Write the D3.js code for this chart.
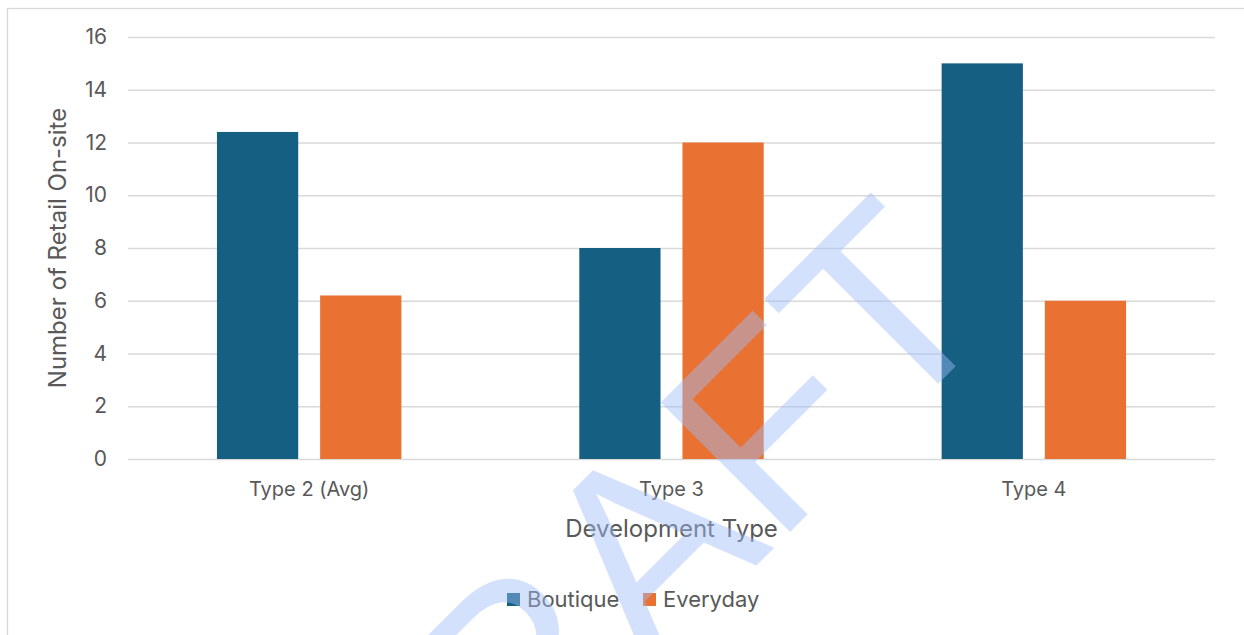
<!DOCTYPE html>
<html>
<head>
<meta charset="utf-8">
<script src="https://cdn.jsdelivr.net/npm/d3@7"></script>
<style>
  body { margin: 0; background: #fff; }
  svg { display: block; }
</style>
</head>
<body>
<svg width="1244" height="635"></svg>
<script>
const categories = ['Type 2 (Avg)', 'Type 3', 'Type 4'];
const series = ['Boutique', 'Everyday'];
const boutique = [12.4, 8, 15];
const everyday = [6.2, 12, 6];
const yTicks = [0, 2, 4, 6, 8, 10, 12, 14, 16];

const svg = d3.select('svg');
const font = 'Inter, "Open Sans", sans-serif';
const textColor = '#595959';
const gridColor = '#D9D9D9';
const color = d3.scaleOrdinal()
  .domain(series)
  .range(['#156082', '#E97132']);

const plot = { left: 128, right: 1215, top: 37, bottom: 459 };

// chart frame
svg.append('rect')
  .attr('x', 7.5).attr('y', 8.5)
  .attr('width', 1400).attr('height', 800)
  .attr('fill', '#fff')
  .attr('stroke', gridColor)
  .attr('stroke-width', 1.3);

const x0 = d3.scaleBand()
  .domain(categories)
  .range([plot.left, plot.right]);

// excel style: gap width 219%, overlap -27%
const gapWidth = 2.19, overlap = -0.27;
const barW = x0.bandwidth() / (series.length - overlap * (series.length - 1) + gapWidth);
const x1 = d3.scaleOrdinal()
  .domain(series)
  .range(series.map((s, i) => barW * gapWidth / 2 + i * barW * (1 - overlap)));

const y = d3.scaleLinear()
  .domain([0, 16])
  .range([plot.bottom, plot.top]);

// gridlines + y labels
const yAxis = d3.axisLeft(y)
  .tickValues(yTicks)
  .tickSize(-(plot.right - plot.left))
  .tickPadding(21);

const yAxisG = svg.append('g')
  .attr('transform', `translate(${plot.left},0)`)
  .call(yAxis);
yAxisG.select('.domain').remove();
yAxisG.selectAll('line')
  .attr('stroke', gridColor)
  .attr('stroke-width', 1.3);
yAxisG.selectAll('text')
  .attr('fill', textColor)
  .style('font-family', font)
  .style('font-size', '21px');

// x labels
const xAxis = d3.axisBottom(x0).tickSize(0).tickPadding(23);
const xAxisG = svg.append('g')
  .attr('transform', `translate(0,${plot.bottom})`)
  .call(xAxis);
xAxisG.select('.domain').remove();
xAxisG.selectAll('text')
  .attr('fill', textColor)
  .style('font-family', font)
  .style('font-size', '20px');

// bars
const rows = categories.map((c, i) => ({ cat: c, Boutique: boutique[i], Everyday: everyday[i] }));
svg.append('g')
  .selectAll('g')
  .data(rows)
  .enter()
  .append('g')
  .attr('transform', d => `translate(${x0(d.cat)},0)`)
  .selectAll('rect')
  .data(d => series.map(s => ({ key: s, value: d[s] })))
  .enter()
  .append('rect')
  .attr('x', d => x1(d.key))
  .attr('y', d => y(d.value))
  .attr('width', barW)
  .attr('height', d => y(0) - y(d.value))
  .attr('fill', d => color(d.key));

// axis titles
svg.append('text')
  .text('Number of Retail On-site')
  .attr('text-anchor', 'middle')
  .attr('fill', textColor)
  .style('font-family', font)
  .style('font-size', '24px')
  .attr('transform', `translate(66, ${(plot.top + plot.bottom) / 2})rotate(-90)`);

svg.append('text')
  .text('Development Type')
  .attr('text-anchor', 'middle')
  .attr('fill', textColor)
  .style('font-family', font)
  .style('font-size', '24px')
  .attr('x', (plot.left + plot.right) / 2)
  .attr('y', 537);

// legend
const legendG = svg.append('g')
  .attr('transform', 'translate(507, 593)');
const space = 136;
series.forEach((s, i) => {
  legendG.append('rect')
    .attr('x', i * space)
    .attr('y', 0)
    .attr('width', 13)
    .attr('height', 13)
    .attr('fill', color(s));
  legendG.append('text')
    .attr('x', 20 + i * space)
    .attr('y', 14)
    .text(s)
    .attr('fill', textColor)
    .style('font-family', font)
    .style('font-size', '22px');
});

// watermark
svg.append('text')
  .text('DRAFT')
  .attr('text-anchor', 'middle')
  .attr('fill', '#A0BDF9')
  .attr('fill-opacity', 0.45)
  .style('font-family', '"Liberation Sans", Arial, sans-serif')
  .style('font-size', '266px')
  .attr('transform', 'translate(691, 631)rotate(-45)');
</script>
</body>
</html>
